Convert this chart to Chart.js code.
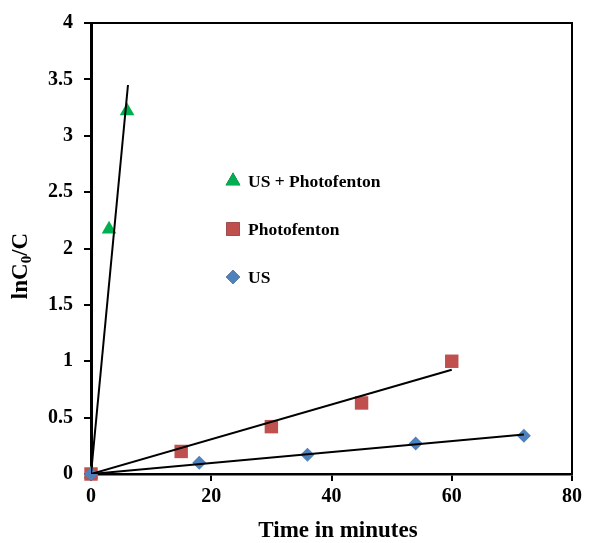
<!DOCTYPE html>
<html>
<head>
<meta charset="utf-8">
<script src="https://cdn.jsdelivr.net/npm/chart.js@4"></script>
<style>
  html, body { margin: 0; padding: 0; background: #fff; }
  #wrap { width: 590px; height: 543px; }
</style>
</head>
<body>
<div id="wrap"><canvas id="chart"></canvas></div>
<script>
// data
const seriesNames = ["US + Photofenton", "Photofenton", "US"];
const usPfTime = [0, 3, 6];
const usPfValue = [0, 2.17, 3.22];
const pfTime = [0, 15, 30, 45, 60];
const pfValue = [0, 0.2, 0.42, 0.63, 1.0];
const usTime = [0, 18, 36, 54, 72];
const usValue = [0, 0.1, 0.17, 0.27, 0.34];

// linear trend lines (start / end)
const usPfFitTime = [0, 6.15];
const usPfFitValue = [0, 3.45];
const pfFitTime = [0, 60];
const pfFitValue = [0, 0.925];
const usFitTime = [0, 72];
const usFitValue = [0, 0.35];

const xTicks = [0, 20, 40, 60, 80];
const yTicks = [0, 0.5, 1, 1.5, 2, 2.5, 3, 3.5, 4];

const colors = ["#00B050", "#C0504D", "#4F81BD"];
const shapes = ["triangle", "rect", "rectRot"];
const sizes = [8.5, 9.5, 7];

const FONT = "'Liberation Serif', 'Times New Roman', serif";

function pts(xs, ys) {
    return xs.map((x, i) => ({ x: x, y: ys[i] }));
}

function markerSet(i, xs, ys) {
    return {
        label: seriesNames[i],
        data: pts(xs, ys),
        showLine: false,
        pointStyle: shapes[i],
        pointRadius: sizes[i],
        pointHoverRadius: sizes[i],
        backgroundColor: colors[i],
        borderColor: colors[i],
        borderWidth: 0,
        clip: false,
        order: 3 - i   // blue drawn on top of red, as in the picture
    };
}

function fitSet(xs, ys) {
    return {
        label: "fit",
        data: pts(xs, ys),
        showLine: true,
        pointRadius: 0,
        borderColor: "#000",
        borderWidth: 2,
        fill: false,
        order: 0
    };
}

// frame, axis titles and the in-plot legend
const decor = {
    id: "decor",
    afterDatasetsDraw(chart) {
        const ctx = chart.ctx;
        const a = chart.chartArea;
        ctx.save();
        ctx.strokeStyle = "#000";
        ctx.lineWidth = 2;
        ctx.beginPath();
        ctx.moveTo(a.left, a.top);
        ctx.lineTo(a.right, a.top);
        ctx.lineTo(a.right, a.bottom);
        ctx.stroke();

        // legend
        ctx.fillStyle = "#000";
        ctx.font = "bold 17.5px " + FONT;
        ctx.textBaseline = "middle";
        ctx.textAlign = "left";
        const rows = [181, 229, 277];
        rows.forEach((y, i) => {
            Chart.helpers.drawPoint(ctx, {
                pointStyle: shapes[i], radius: sizes[i], borderWidth: 0
            }, 233, y);
            ctx.fillStyle = colors[i];
            ctx.fill();
            ctx.fillStyle = "#000";
            ctx.fillText(seriesNames[i], 248, y + 1);
        });

        // x title
        ctx.font = "bold 23px " + FONT;
        ctx.textAlign = "center";
        ctx.textBaseline = "middle";
        ctx.fillText("Time in minutes", 338, 531);

        // y title with subscript
        ctx.translate(21, 266);
        ctx.rotate(-Math.PI / 2);
        const big = "bold 23px " + FONT;
        const small = "bold 15px " + FONT;
        const parts = [["lnC", big, 0], ["0", small, 6], ["/C", big, 0]];
        let total = 0;
        parts.forEach(p => { ctx.font = p[1]; total += ctx.measureText(p[0]).width; });
        let x = -total / 2;
        ctx.textAlign = "left";
        parts.forEach(p => {
            ctx.font = p[1];
            ctx.fillText(p[0], x, p[2]);
            x += ctx.measureText(p[0]).width;
        });
        ctx.restore();
    }
};

new Chart(document.getElementById("chart"), {
    type: "scatter",
    data: {
        datasets: [
            markerSet(0, usPfTime, usPfValue),
            markerSet(1, pfTime, pfValue),
            markerSet(2, usTime, usValue),
            fitSet(usPfFitTime, usPfFitValue),
            fitSet(pfFitTime, pfFitValue),
            fitSet(usFitTime, usFitValue)
        ]
    },
    options: {
        responsive: true,
        maintainAspectRatio: false,
        animation: false,
        layout: { padding: { left: 0, top: 20, right: 18, bottom: 0 } },
        plugins: { legend: { display: false }, tooltip: { enabled: false } },
        scales: {
            x: {
                type: "linear",
                min: 0, max: 80,
                afterFit: s => { s.height = 69; },
                afterBuildTicks: s => { s.ticks = xTicks.map(v => ({ value: v })); },
                ticks: {
                    color: "#000",
                    padding: 4,
                    font: { family: FONT, size: 20, weight: "bold" },
                    callback: v => String(v)
                },
                grid: { drawOnChartArea: false, color: "#000", lineWidth: 2, tickLength: 7 },
                border: { color: "#000", width: 2.5 }
            },
            y: {
                type: "linear",
                min: 0, max: 4,
                afterFit: s => { s.width = 91; },
                afterBuildTicks: s => { s.ticks = yTicks.map(v => ({ value: v })); },
                ticks: {
                    color: "#000",
                    padding: 11,
                    font: { family: FONT, size: 20, weight: "bold" },
                    callback: v => String(v)
                },
                grid: { drawOnChartArea: false, color: "#000", lineWidth: 2, tickLength: 7 },
                border: { color: "#000", width: 3 }
            }
        }
    },
    plugins: [decor]
});
</script>
</body>
</html>
